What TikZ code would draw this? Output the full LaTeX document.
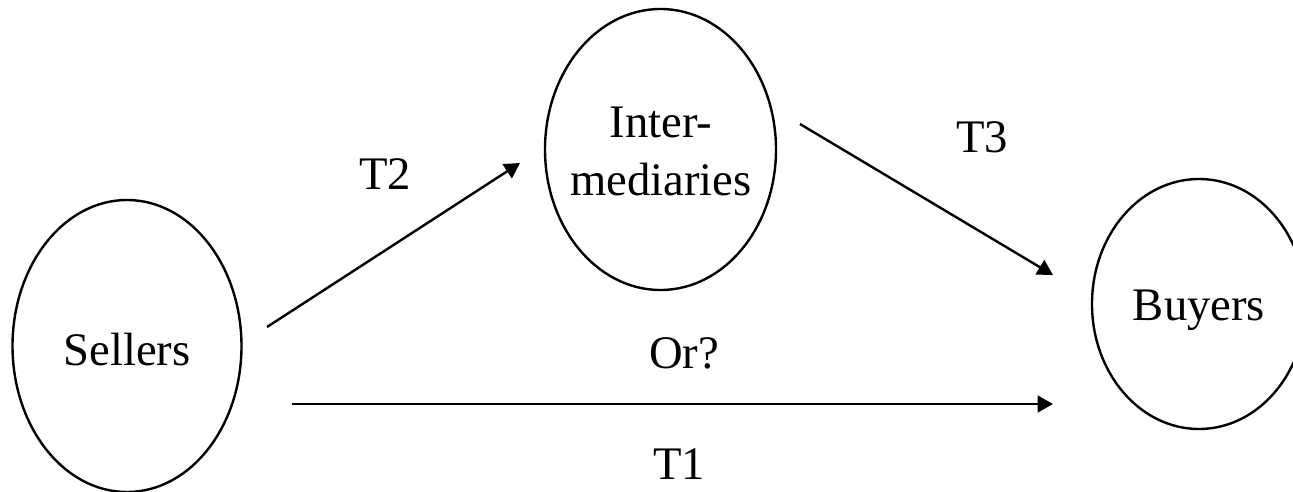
\documentclass[tikz,border=0pt]{standalone}
\usepackage{fontspec}
\setmainfont{Liberation Serif}
\usetikzlibrary{shapes.geometric,arrows.meta}

\tikzset{
  party/.style={draw=black, line width=1.8pt, ellipse, inner sep=0pt},
  flow/.style={draw=black, line width=1.8pt,
    -{Triangle[length=11.5pt,width=12.5pt]}},
  tag/.style={font=\fontsize{35}{43.5}\selectfont, inner sep=0pt, anchor=base,
    align=center}
}

\begin{document}
\begin{tikzpicture}[x=0.75pt, y=-0.75pt]
  \useasboundingbox (0,0) rectangle (1293,492);
  \clip (0,0) rectangle (1293,492);

  % the three parties
  \node[party, minimum width=229pt*0.75, minimum height=292pt*0.75]
    (sellers) at (127,346) {};
  \node[party, minimum width=231pt*0.75, minimum height=281pt*0.75]
    (inter) at (660.5,149.5) {};
  \node[party, minimum width=214pt*0.75, minimum height=250pt*0.75]
    (buyers) at (1199,304) {};

  % their names
  \node[tag] (sellerstext) at (127,365) {Sellers};
  \node[tag, anchor=north] (intertext) at (661,107) {\vphantom{I}Inter-\\mediaries};
  \node[tag] (buyerstext) at (1199,320) {Buyers};

  % free ends of the transaction arrows
  \coordinate (t2s) at (267,327);
  \coordinate (t2e) at (520,163);
  \coordinate (t3s) at (800,124);
  \coordinate (t3e) at (1053,275);
  \coordinate (t1s) at (292,404);
  \coordinate (t1e) at (1053,404);

  \draw[flow] (t2s) -- (t2e);
  \draw[flow] (t3s) -- (t3e);
  \draw[flow] (t1s) -- (t1e);

  % transaction labels
  \node[tag] (lt2) at (385,190) {T2};
  \node[tag] (lt3) at (982,152) {T3};
  \node[tag] (lor) at (684,368) {Or?};
  \node[tag] (lt1) at (679,479) {T1};
\end{tikzpicture}
\end{document}
